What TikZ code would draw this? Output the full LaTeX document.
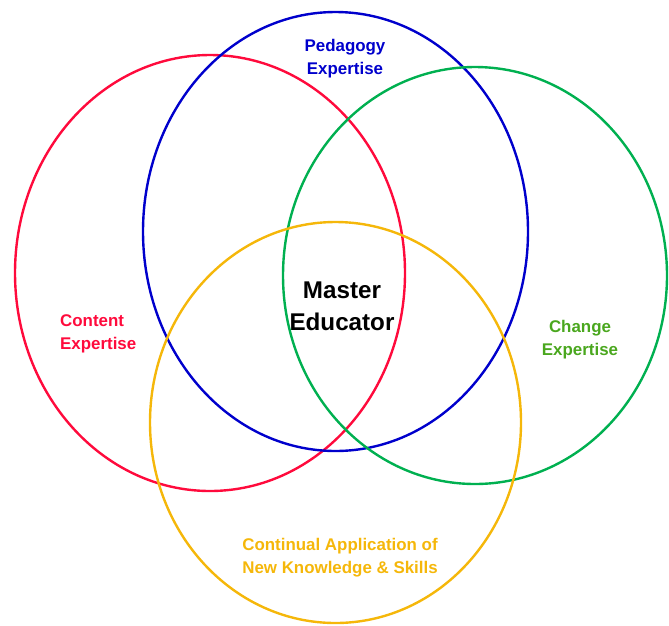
\documentclass[tikz,border=0pt]{standalone}
\usepackage{fontspec}
\setmainfont{Liberation Sans}
\definecolor{cred}{HTML}{FF0A3C}
\definecolor{cblue}{HTML}{0000CC}
\definecolor{cgreen}{HTML}{00B050}
\definecolor{cgreentext}{HTML}{4AA71E}
\definecolor{cyellow}{HTML}{F5B70A}
\begin{document}
\begin{tikzpicture}[x=1pt,y=-1pt,
  ring/.style={line width=2.4pt},
  lbl/.style={font=\fontsize{16.9}{23}\selectfont\bfseries, align=center, inner sep=0pt},
  big/.style={font=\fontsize{24.2}{32}\selectfont\bfseries, align=center, inner sep=0pt}]
\useasboundingbox (0,0) rectangle (669,625);
\draw[ring, cred] (210,273) ellipse [x radius=195, y radius=218];
\draw[ring, cblue] (335.5,231.5) ellipse [x radius=192.5, y radius=219.5];
\draw[ring, cgreen] (475,275.5) ellipse [x radius=192, y radius=208.5];
\draw[ring, cyellow] (335.5,422.5) ellipse [x radius=185.5, y radius=200.5];
\node[lbl, text=cblue] (ped) at (345,59) {Pedagogy\\Expertise};
\node[lbl, text=cred, align=left, anchor=west] (con) at (60,334) {Content\\Expertise};
\node[lbl, text=cgreentext] (chg) at (580,339.5) {Change\\Expertise};
\node[lbl, text=cyellow] (cont) at (340,558) {Continual Application of\\New Knowledge \& Skills};
\node[big] (me) at (342,306) {Master\\Educator};
\end{tikzpicture}
\end{document}
